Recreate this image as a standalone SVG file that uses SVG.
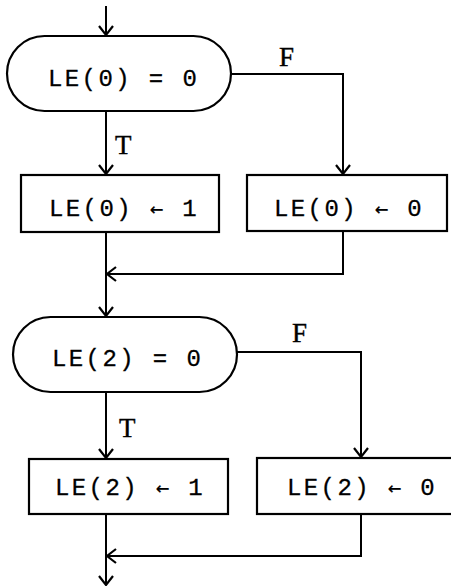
<svg xmlns="http://www.w3.org/2000/svg" width="451" height="586" viewBox="0 0 451 586">
<style>
.shape{fill:#fff;stroke:#000;stroke-width:2.2}
.code{font-family:"Liberation Mono","DejaVu Sans Mono",monospace;font-size:24px;letter-spacing:2.4px;fill:#000;stroke:#000;stroke-width:0.3}
.arr{font-family:"DejaVu Sans Mono",monospace;font-size:22px}
.lbl{font-family:"Liberation Serif","DejaVu Serif",serif;font-size:27px;fill:#000;stroke:#000;stroke-width:0.4}
.conn{fill:none;stroke:#000;stroke-width:2}
</style>
<defs>
<marker id="ah" viewBox="0 0 20 20" refX="18" refY="10" markerWidth="20" markerHeight="20" markerUnits="userSpaceOnUse" orient="auto">
<path d="M9,3 L18,10 L9,17" fill="none" stroke="#000" stroke-width="2.2"/>
</marker>
</defs>
<rect width="451" height="586" fill="#fff"/>
<g id="connectors">
<path class="conn" d="M106,6 V35" marker-end="url(#ah)"/>
<path class="conn" d="M106,111 V174" marker-end="url(#ah)"/>
<path class="conn" d="M231,74 H343 V174" marker-end="url(#ah)"/>
<path class="conn" d="M106,232 V316" marker-end="url(#ah)"/>
<path class="conn" d="M343,231 V274 H107" marker-end="url(#ah)"/>
<path class="conn" d="M106,392 V458" marker-end="url(#ah)"/>
<path class="conn" d="M237,352 H361 V457" marker-end="url(#ah)"/>
<path class="conn" d="M106,514 V585" marker-end="url(#ah)"/>
<path class="conn" d="M361,514 V556 H107" marker-end="url(#ah)"/>
<text class="lbl" x="279" y="66">F</text>
<text class="lbl" x="115" y="154">T</text>
<text class="lbl" x="292" y="342">F</text>
<text class="lbl" x="119" y="437">T</text>
</g>
<g id="cond1">
<rect class="shape" x="7" y="36" width="224" height="75" rx="37.5"/>
<text class="code" x="48" y="86">LE(0) = 0</text>
</g>
<g id="set1">
<rect class="shape" x="21" y="175" width="198" height="57"/>
<text class="code" x="49" y="216">LE(0) <tspan class="arr">←</tspan> 1</text>
</g>
<g id="set0">
<rect class="shape" x="247" y="175" width="200" height="56"/>
<text class="code" x="274" y="216">LE(0) <tspan class="arr">←</tspan> 0</text>
</g>
<g id="cond2">
<rect class="shape" x="13" y="317" width="224" height="75" rx="37.5"/>
<text class="code" x="52" y="366">LE(2) = 0</text>
</g>
<g id="set2_1">
<rect class="shape" x="29" y="459" width="199" height="55"/>
<text class="code" x="55" y="495">LE(2) <tspan class="arr">←</tspan> 1</text>
</g>
<g id="set2_0">
<rect class="shape" x="257" y="458" width="200" height="56"/>
<text class="code" x="287" y="495">LE(2) <tspan class="arr">←</tspan> 0</text>
</g>
</svg>
